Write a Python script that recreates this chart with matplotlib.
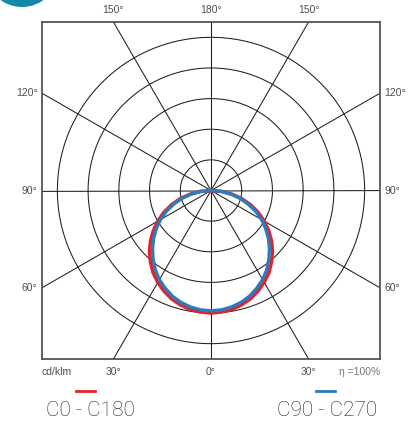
import numpy as np
import matplotlib
matplotlib.use('Agg')
import matplotlib.pyplot as plt
from matplotlib.patches import Ellipse

# Угол гамма (от надира) и сила света, кд/клм
gamma = [0, 5, 10, 15, 20, 25, 30, 35, 40, 45, 50, 55, 60, 65, 70, 75, 80, 85, 90]
c0_c180 = [400, 398, 394, 386, 376, 362, 346, 328, 306, 283,
           257, 229, 200, 169, 137, 104, 69, 35, 0]
c90_c270 = [393, 391, 386, 378, 367, 352, 336, 316, 293, 269,
            244, 217, 190, 160, 128, 97, 64, 32, 0]

rings = [100, 200, 300, 400, 500]
spokes = [0, 30, 60, 90, 120, 150]
rmax = 550

top_labels = ["150°", "180°", "150°"]
side_labels = ["120°", "90°", "60°"]
bottom_labels = ["30°", "0°", "30°"]

red = "#e3232c"
blue = "#2a7cc0"
grid_col = "#1e1e1e"
txt_col = "#4d4d4d"
lab_font = "Liberation Sans"

fig = plt.figure(figsize=(4.16, 4.21), dpi=100)
ax = fig.add_axes([42 / 416, 62 / 421, 338 / 416, 337 / 421])
ax.set_xlim(-rmax, rmax)
ax.set_ylim(-rmax, rmax)
ax.set_xticks([])
ax.set_yticks([])
for s in ax.spines.values():
    s.set_color("#555555")
    s.set_linewidth(1.3)

# сетка: окружности и лучи
t = np.linspace(0, 2 * np.pi, 361)
for r in rings:
    ax.plot(r * np.cos(t), r * np.sin(t), color=grid_col, lw=0.75)
for a in spokes:
    a = np.radians(a)
    ax.plot([-1000 * np.sin(a), 1000 * np.sin(a)],
            [-1000 * np.cos(a), 1000 * np.cos(a)], color=grid_col, lw=0.75)

# кривые силы света (симметричные)
def curve(vals):
    g = np.radians(np.array(gamma))
    v = np.array(vals)
    g = np.concatenate([-g[::-1], g[1:]])
    v = np.concatenate([v[::-1], v[1:]])
    return v * np.sin(g), -v * np.cos(g)

x, y = curve(c0_c180)
ax.plot(x, y, color=red, lw=2.6, solid_joinstyle="round")
x, y = curve(c90_c270)
ax.plot(x, y, color=blue, lw=2.4, solid_joinstyle="round")

# подписи углов
off = rmax * np.tan(np.radians(30))
for xx, lab in zip([-off, 0, off], top_labels):
    ax.text(xx, rmax + 22, lab, ha="center", va="bottom", fontsize=7.5,
            color=txt_col, family=lab_font)
for yy, lab in zip([off, 0, -off], side_labels):
    ax.text(-rmax - 15, yy, lab, ha="right", va="center", fontsize=7.5,
            color=txt_col, family=lab_font)
    ax.text(rmax + 15, yy, lab, ha="left", va="center", fontsize=7.5,
            color=txt_col, family=lab_font)
for xx, lab in zip([-off, 0, off], bottom_labels):
    ax.text(xx, -rmax - 25, lab, ha="center", va="top", fontsize=7.5,
            color=txt_col, family=lab_font)
ax.text(-rmax, -rmax - 25, "cd/klm", ha="left", va="top", fontsize=7.5,
        color=txt_col, family=lab_font)
ax.text(rmax, -rmax - 25, "η =100%", ha="right", va="top", fontsize=7.5,
        color="#777777", family=lab_font)

# легенда
fig.add_artist(plt.Line2D([76 / 416, 95 / 416], [1 - 391 / 421] * 2,
                          transform=fig.transFigure, color=red, lw=2))
fig.add_artist(plt.Line2D([316 / 416, 335 / 416], [1 - 391 / 421] * 2,
                          transform=fig.transFigure, color=blue, lw=2))
fig.text(90 / 416, 1 - 410 / 421, "C0 - C180", ha="center", va="center",
         fontsize=15, color="#222222", family="Roboto", weight="light")
fig.text(327 / 416, 1 - 410 / 421, "C90 - C270", ha="center", va="center",
         fontsize=15, color="#222222", family="Roboto", weight="light")

# бирюзовый круг в углу
fig.add_artist(Ellipse((22 / 416, 1 + 30 / 421), 2 * 37 / 416, 2 * 37 / 421,
                       transform=fig.transFigure, color="#138aa5", lw=0))

fig.savefig("out.png", dpi=100)
